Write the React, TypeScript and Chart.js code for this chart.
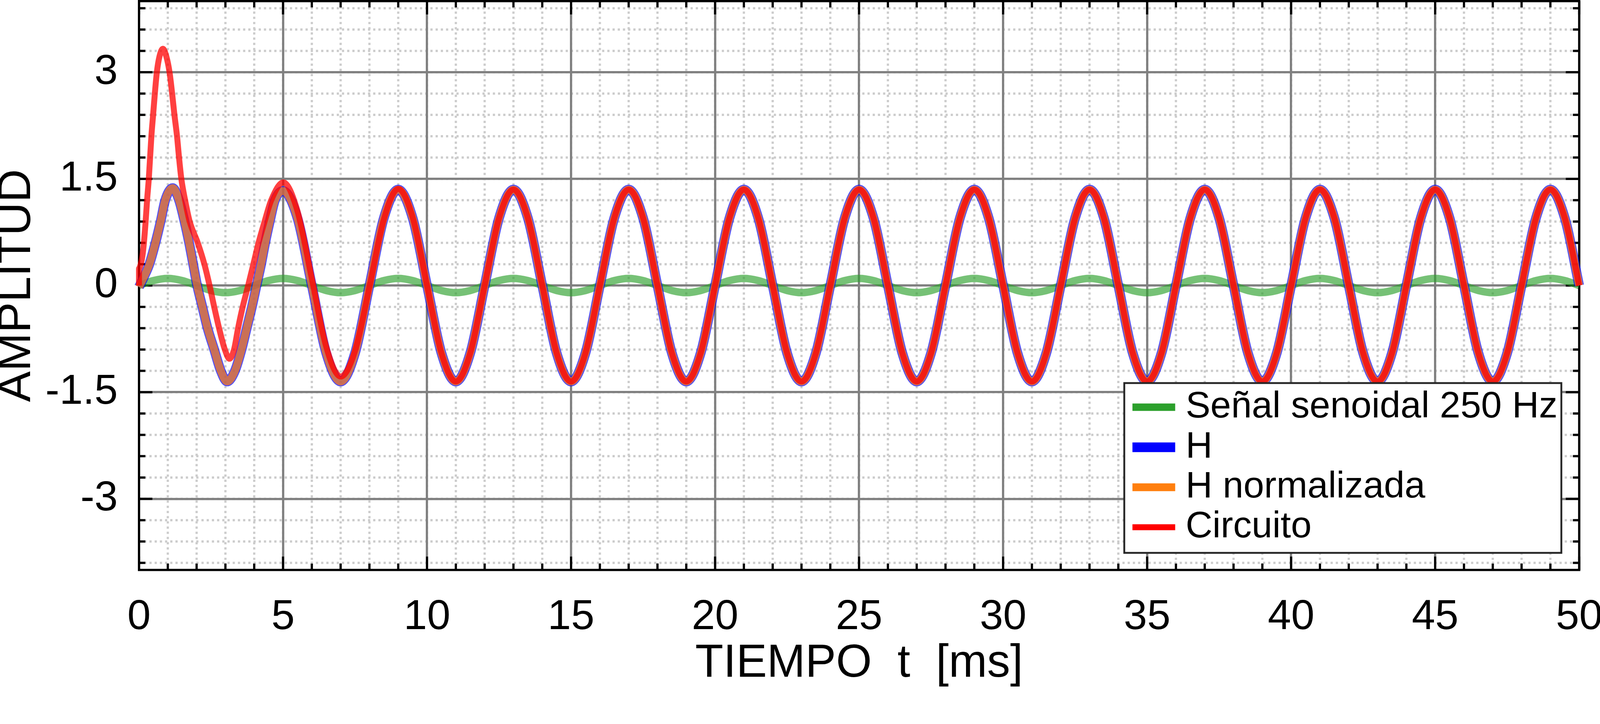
import { useEffect, useRef, useState } from "react";
import { Chart, registerables } from "chart.js";

Chart.register(...registerables);

const FONT = '"Liberation Sans", Arial, Helvetica, sans-serif';
const W = 4305;
const H = 1854;

const X_TICKS = [0, 5, 10, 15, 20, 25, 30, 35, 40, 45, 50];
const Y_TICKS = [-3, -1.5, 0, 1.5, 3];
const X_MINOR_STEP = 1;
const Y_MINOR_STEP = 0.3;

const LABELS = ["Señal senoidal 250 Hz", "H", "H normalizada", "Circuito"];
const COLORS = ["#2ca02c", "#0000ff", "#ff7f0e", "#ff0000"];
const ALPHAS = [0.65, 0.7, 0.7, 0.75];
const WIDTHS = [20, 26, 21, 16];

// input signal, 250 Hz, sampled every 0.5 ms
const SINE_T = [
    0, 0.5, 1, 1.5, 2, 2.5, 3, 3.5,
    4, 4.5, 5, 5.5, 6, 6.5, 7, 7.5,
    8, 8.5, 9, 9.5, 10, 10.5, 11, 11.5,
    12, 12.5, 13, 13.5, 14, 14.5, 15, 15.5,
    16, 16.5, 17, 17.5, 18, 18.5, 19, 19.5,
    20, 20.5, 21, 21.5, 22, 22.5, 23, 23.5,
    24, 24.5, 25, 25.5, 26, 26.5, 27, 27.5,
    28, 28.5, 29, 29.5, 30, 30.5, 31, 31.5,
    32, 32.5, 33, 33.5, 34, 34.5, 35, 35.5,
    36, 36.5, 37, 37.5, 38, 38.5, 39, 39.5,
    40, 40.5, 41, 41.5, 42, 42.5, 43, 43.5,
    44, 44.5, 45, 45.5, 46, 46.5, 47, 47.5,
    48, 48.5, 49, 49.5, 50,
];
const SINE_V = [
    0, 0.07, 0.1, 0.07, 0, -0.07, -0.1, -0.07,
    0, 0.07, 0.1, 0.07, 0, -0.07, -0.1, -0.07,
    0, 0.07, 0.1, 0.07, 0, -0.07, -0.1, -0.07,
    0, 0.07, 0.1, 0.07, 0, -0.07, -0.1, -0.07,
    0, 0.07, 0.1, 0.07, 0, -0.07, -0.1, -0.07,
    0, 0.07, 0.1, 0.07, 0, -0.07, -0.1, -0.07,
    0, 0.07, 0.1, 0.07, 0, -0.07, -0.1, -0.07,
    0, 0.07, 0.1, 0.07, 0, -0.07, -0.1, -0.07,
    0, 0.07, 0.1, 0.07, 0, -0.07, -0.1, -0.07,
    0, 0.07, 0.1, 0.07, 0, -0.07, -0.1, -0.07,
    0, 0.07, 0.1, 0.07, 0, -0.07, -0.1, -0.07,
    0, 0.07, 0.1, 0.07, 0, -0.07, -0.1, -0.07,
    0, 0.07, 0.1, 0.07, 0,
];

// H and H normalizada (same curve in the picture)
const H_T = [
    0, 0.17, 0.36, 0.57, 0.75, 0.91, 1.17, 1.39, 1.58, 1.74, 1.88, 2.02, 2.2, 2.38,
    2.61, 2.84, 3.06, 3.33, 3.56, 3.74, 3.92, 4.08, 4.24, 4.38, 4.54, 4.72, 5,
    5.5, 6, 6.5, 7, 7.5, 8, 8.5, 9,
    9.5, 10, 10.5, 11, 11.5, 12, 12.5, 13,
    13.5, 14, 14.5, 15, 15.5, 16, 16.5, 17,
    17.5, 18, 18.5, 19, 19.5, 20, 20.5, 21,
    21.5, 22, 22.5, 23, 23.5, 24, 24.5, 25,
    25.5, 26, 26.5, 27, 27.5, 28, 28.5, 29,
    29.5, 30, 30.5, 31, 31.5, 32, 32.5, 33,
    33.5, 34, 34.5, 35, 35.5, 36, 36.5, 37,
    37.5, 38, 38.5, 39, 39.5, 40, 40.5, 41,
    41.5, 42, 42.5, 43, 43.5, 44, 44.5, 45,
    45.5, 46, 46.5, 47, 47.5, 48, 48.5, 49,
    49.5, 50,
];
const H_V = [
    -0.02, 0.12, 0.3, 0.6, 0.9, 1.2, 1.37, 1.2, 0.9, 0.6, 0.3, 0, -0.3, -0.6,
    -0.9, -1.2, -1.35, -1.2, -0.9, -0.6, -0.3, 0, 0.3, 0.6, 0.9, 1.2, 1.33,
    0.95, 0, -0.95, -1.35, -0.95, 0, 0.95, 1.35,
    0.95, 0, -0.95, -1.35, -0.95, 0, 0.95, 1.35,
    0.95, 0, -0.95, -1.35, -0.95, 0, 0.95, 1.35,
    0.95, 0, -0.95, -1.35, -0.95, 0, 0.95, 1.35,
    0.95, 0, -0.95, -1.35, -0.95, 0, 0.95, 1.35,
    0.95, 0, -0.95, -1.35, -0.95, 0, 0.95, 1.35,
    0.95, 0, -0.95, -1.35, -0.95, 0, 0.95, 1.35,
    0.95, 0, -0.95, -1.35, -0.95, 0, 0.95, 1.35,
    0.95, 0, -0.95, -1.35, -0.95, 0, 0.95, 1.35,
    0.95, 0, -0.95, -1.35, -0.95, 0, 0.95, 1.35,
    0.95, 0, -0.95, -1.35, -0.95, 0, 0.95, 1.35,
    0.95, 0,
];

// circuit output
const CIRCUIT_T = [
    0, 0, 0.06, 0.12, 0.17, 0.23, 0.28, 0.34, 0.43, 0.49, 0.55, 0.62, 0.71, 0.83,
    0.95, 1.06, 1.15, 1.23, 1.32, 1.39, 1.47, 1.6, 1.76, 2.04, 2.27, 2.45, 2.61,
    2.78, 2.98, 3.14, 3.3, 3.44, 3.6, 3.79, 3.97, 4.15, 4.36, 4.59, 5.01,
    5.5, 6, 6.5, 7, 7.5, 8, 8.5, 9, 9.5, 10,
    10.5, 11, 11.5, 12, 12.5, 13, 13.5, 14,
    14.5, 15, 15.5, 16, 16.5, 17, 17.5, 18,
    18.5, 19, 19.5, 20, 20.5, 21, 21.5, 22,
    22.5, 23, 23.5, 24, 24.5, 25, 25.5, 26,
    26.5, 27, 27.5, 28, 28.5, 29, 29.5, 30,
    30.5, 31, 31.5, 32, 32.5, 33, 33.5, 34,
    34.5, 35, 35.5, 36, 36.5, 37, 37.5, 38,
    38.5, 39, 39.5, 40, 40.5, 41, 41.5, 42,
    42.5, 43, 43.5, 44, 44.5, 45, 45.5, 46,
    46.5, 47, 47.5, 48, 48.5, 49, 49.5, 50,
];
const CIRCUIT_V = [
    0, 0.24, 0.3, 0.42, 0.6, 0.9, 1.2, 1.5, 2.1, 2.4, 2.7, 3, 3.22, 3.33,
    3.22, 3, 2.7, 2.4, 2.1, 1.8, 1.5, 1.2, 0.9, 0.6, 0.3, 0, -0.3,
    -0.6, -0.9, -1.03, -0.9, -0.6, -0.3, 0, 0.3, 0.6, 0.9, 1.2, 1.45,
    1.05, 0.1, -0.86, -1.28, -0.92, -0.02, 0.93, 1.36, 0.96, 0,
    -0.95, -1.35, -0.95, 0, 0.95, 1.35, 0.95, 0,
    -0.95, -1.35, -0.95, 0, 0.95, 1.35, 0.95, 0,
    -0.95, -1.35, -0.95, 0, 0.95, 1.35, 0.95, 0,
    -0.95, -1.35, -0.95, 0, 0.95, 1.35, 0.95, 0,
    -0.95, -1.35, -0.95, 0, 0.95, 1.35, 0.95, 0,
    -0.95, -1.35, -0.95, 0, 0.95, 1.35, 0.95, 0,
    -0.95, -1.35, -0.95, 0, 0.95, 1.35, 0.95, 0,
    -0.95, -1.35, -0.95, 0, 0.95, 1.35, 0.95, 0,
    -0.95, -1.35, -0.95, 0, 0.95, 1.35, 0.95, 0,
    -0.95, -1.35, -0.95, 0, 0.95, 1.35, 0.95, 0,
];

function rgba(hex: string, a: number) {
    const n = parseInt(hex.slice(1), 16);
    return `rgba(${(n >> 16) & 255},${(n >> 8) & 255},${n & 255},${a})`;
}

const pts = (t: number[], v: number[]) => t.map((x, i) => ({ x, y: v[i] }));

// dotted minor grid, under the major grid
const minorGrid = {
    id: "minorGrid",
    beforeDraw(chart: any) {
        const { ctx, chartArea: a, scales } = chart;
        const x = scales.x, y = scales.y;
        ctx.save();
        ctx.strokeStyle = "#cccccc";
        ctx.lineWidth = 6;
        ctx.setLineDash([6, 8]);
        ctx.beginPath();
        for (let v = x.min + X_MINOR_STEP; v < x.max; v += X_MINOR_STEP) {
            const px = x.getPixelForValue(v);
            ctx.moveTo(px, a.top);
            ctx.lineTo(px, a.bottom);
        }
        for (let k = Math.ceil(y.min / Y_MINOR_STEP); k * Y_MINOR_STEP <= y.max; k++) {
            const py = y.getPixelForValue(k * Y_MINOR_STEP);
            ctx.moveTo(a.left, py);
            ctx.lineTo(a.right, py);
        }
        ctx.stroke();
        ctx.restore();
    },
};

// box with inward ticks on all four sides
const frame = {
    id: "frame",
    beforeDatasetsDraw(chart: any) {
        const { ctx, chartArea: a, scales } = chart;
        const x = scales.x, y = scales.y;
        const major = 36, minor = 17;
        ctx.save();
        ctx.strokeStyle = "#000";
        ctx.lineWidth = 6;
        ctx.beginPath();
        for (let v = x.min; v <= x.max; v += X_MINOR_STEP) {
            const px = x.getPixelForValue(v);
            const len = X_TICKS.includes(v) ? major : minor;
            ctx.moveTo(px, a.bottom);
            ctx.lineTo(px, a.bottom - len);
            ctx.moveTo(px, a.top);
            ctx.lineTo(px, a.top + len);
        }
        for (let k = Math.ceil(y.min / Y_MINOR_STEP); k * Y_MINOR_STEP <= y.max; k++) {
            const py = y.getPixelForValue(k * Y_MINOR_STEP);
            const len = k % 5 === 0 ? major : minor;
            ctx.moveTo(a.left, py);
            ctx.lineTo(a.left + len, py);
            ctx.moveTo(a.right, py);
            ctx.lineTo(a.right - len, py);
        }
        ctx.stroke();
        ctx.strokeRect(a.left, a.top, a.right - a.left, a.bottom - a.top);
        ctx.restore();
    },
};

const legendBox = {
    id: "legendBox",
    afterDatasetsDraw(chart: any) {
        const { ctx, chartArea: a } = chart;
        const w = 1176, h = 457;
        const right = a.right - 48, bottom = a.bottom - 46;
        const left = right - w, top = bottom - h;
        ctx.save();
        ctx.fillStyle = "#fff";
        ctx.fillRect(left, top, w, h);
        ctx.strokeStyle = "#262626";
        ctx.lineWidth = 5;
        ctx.strokeRect(left, top, w, h);
        ctx.font = `100px ${FONT}`;
        ctx.textBaseline = "middle";
        ctx.textAlign = "left";
        chart.data.datasets.forEach((ds: any, i: number) => {
            const yRow = top + 65 + i * 107.7;
            ctx.strokeStyle = COLORS[i];
            ctx.lineWidth = WIDTHS[i];
            ctx.lineCap = "butt";
            ctx.beginPath();
            ctx.moveTo(left + 22, yRow);
            ctx.lineTo(left + 137, yRow);
            ctx.stroke();
            ctx.fillStyle = "#000";
            ctx.fillText(ds.label, left + 165, yRow);
        });
        ctx.restore();
    },
};

export default function App() {
    const chartRef = useRef<HTMLCanvasElement | null>(null);
    const chartInstanceRef = useRef<Chart | null>(null);
    // the window may not be 4305 css px wide; scale the whole drawing to fit it
    const [k] = useState(() => Math.min(window.innerWidth / W, window.innerHeight / H));

    useEffect(() => {
        if (chartInstanceRef.current) {
            chartInstanceRef.current.destroy();
        }
        if (!chartRef.current) return;

        const series = [pts(SINE_T, SINE_V), pts(H_T, H_V), pts(H_T, H_V), pts(CIRCUIT_T, CIRCUIT_V)];

        chartInstanceRef.current = new Chart(chartRef.current, {
            type: "line",
            data: {
                datasets: series.map((data, i) => ({
                    label: LABELS[i],
                    data,
                    borderColor: rgba(COLORS[i], ALPHAS[i]),
                    borderWidth: WIDTHS[i],
                    pointRadius: 0,
                    fill: false,
                    cubicInterpolationMode: "monotone",
                    borderJoinStyle: "round",
                    clip: false,
                    order: 4 - i,
                })),
            },
            options: {
                responsive: false,
                animation: false,
                devicePixelRatio: window.devicePixelRatio * k,
                layout: { padding: { top: 3, right: 56, left: 0, bottom: 0 } },
                plugins: {
                    legend: { display: false },
                    tooltip: { enabled: false },
                },
                scales: {
                    x: {
                        type: "linear",
                        min: 0,
                        max: 50,
                        afterBuildTicks: (s: any) => {
                            s.ticks = X_TICKS.map((value) => ({ value }));
                        },
                        afterFit: (s: any) => {
                            s.height = 320;
                            s.paddingLeft = 0;
                            s.paddingRight = 0;
                        },
                        grid: { color: "#808080", lineWidth: 6, drawTicks: false },
                        border: { display: false },
                        ticks: {
                            padding: 60,
                            color: "#000",
                            autoSkip: false,
                            maxRotation: 0,
                            font: { family: FONT, size: 113 },
                            callback: (v: any) => String(v),
                        },
                        title: {
                            display: true,
                            text: "TIEMPO  t  [ms]",
                            color: "#000",
                            font: { family: FONT, size: 124, lineHeight: 0.75 },
                            padding: { top: 0, bottom: 20 },
                        },
                    },
                    y: {
                        type: "linear",
                        min: -4,
                        max: 4,
                        afterBuildTicks: (s: any) => {
                            s.ticks = Y_TICKS.map((value) => ({ value }));
                        },
                        afterFit: (s: any) => {
                            s.width = 374;
                            s.paddingTop = 0;
                            s.paddingBottom = 0;
                        },
                        grid: { color: "#808080", lineWidth: 6, drawTicks: false },
                        border: { display: false },
                        ticks: {
                            padding: 57,
                            color: "#000",
                            autoSkip: false,
                            font: { family: FONT, size: 113 },
                            callback: (v: any) => String(v),
                        },
                        title: {
                            display: true,
                            text: "AMPLITUD",
                            color: "#000",
                            font: { family: FONT, size: 124, lineHeight: 0.75 },
                            padding: { top: 0, bottom: 0 },
                        },
                    },
                },
            },
            plugins: [minorGrid, frame, legendBox],
        } as any);

        return () => {
            if (chartInstanceRef.current) {
                chartInstanceRef.current.destroy();
                chartInstanceRef.current = null;
            }
        };
    }, [k]);

    return (
        <div style={{ position: "absolute", left: 0, top: 0, width: W * k, height: H * k, overflow: "hidden", background: "#fff" }}>
            <div style={{ width: W, height: H, transform: `scale(${k})`, transformOrigin: "0 0" }}>
                <canvas ref={chartRef} width={W} height={H} style={{ display: "block", width: W, height: H }} />
            </div>
        </div>
    );
}
